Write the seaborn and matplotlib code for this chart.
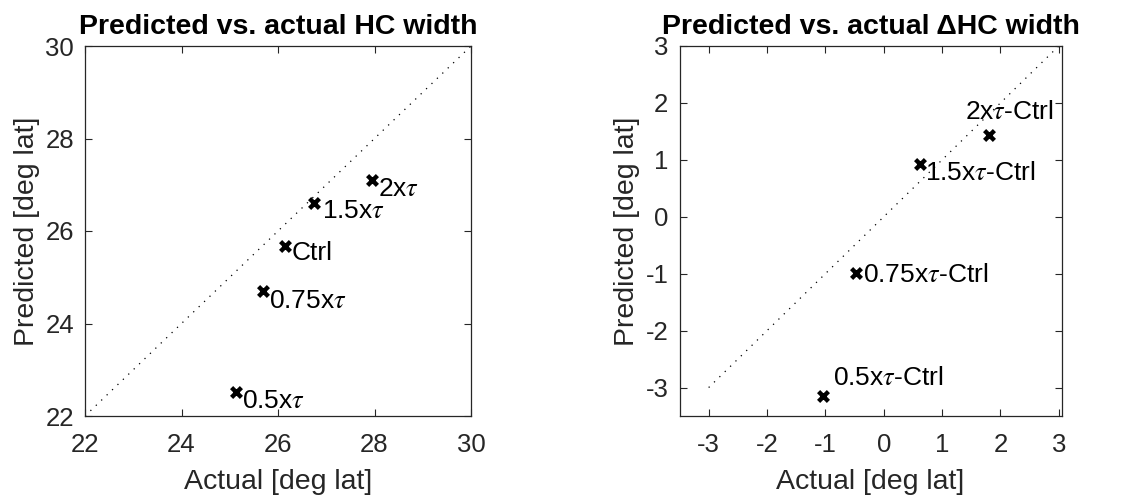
import matplotlib
matplotlib.use("Agg")
import matplotlib.pyplot as plt
import seaborn as sns
import pandas as pd

sns.set_theme(style="white")
plt.rcParams["font.family"] = ["Liberation Sans", "DejaVu Sans"]
plt.rcParams["mathtext.fontset"] = "stix"

# Hadley-cell width: actual vs. predicted (deg lat)
labels_abs = ["2x$\\tau$", "1.5x$\\tau$", "Ctrl", "0.75x$\\tau$", "0.5x$\\tau$"]
actual_abs = [27.95, 26.75, 26.15, 25.68, 25.12]
predicted_abs = [27.10, 26.60, 25.68, 24.70, 22.52]

# Change relative to the control run
labels_delta = ["2x$\\tau$-Ctrl", "1.5x$\\tau$-Ctrl", "0.75x$\\tau$-Ctrl", "0.5x$\\tau$-Ctrl"]
actual_delta = [1.81, 0.62, -0.47, -1.04]
predicted_delta = [1.44, 0.93, -0.99, -3.15]

ticks_abs = [22, 24, 26, 28, 30]
ticks_delta = [-3, -2, -1, 0, 1, 2, 3]
diag_abs = [22, 30]
diag_delta = [-3, 3]

# label offsets in pixels (dx, dy)
offs_abs = [(6, -9), (8, -8), (6, -7), (6, -10), (6, -9)]
offs_delta = [(-24, 23), (5, -9), (7, -2), (10, 18)]

INK = "#262626"
fig = plt.figure(figsize=(11.29, 5.0), dpi=100)
ax1 = fig.add_axes([85 / 1129, 84 / 500, 386 / 1129, 370 / 500])
ax2 = fig.add_axes([679.5 / 1129, 84 / 500, 382.2 / 1129, 370 / 500])


def panel(ax, x, y, labels, offs, diag, ticks, xlim, ylim, title):
    sns.lineplot(x=diag, y=diag, ax=ax, color="black", linestyle=(0, (1, 5)),
                 linewidth=0.9)
    df = pd.DataFrame({"x": x, "y": y})
    sns.scatterplot(data=df, x="x", y="y", ax=ax, marker="x", color="black",
                    s=50, linewidth=3.2, zorder=5)
    for xi, yi, lab, (dx, dy) in zip(x, y, labels, offs):
        ax.annotate(lab, (xi, yi), xytext=(dx, dy), textcoords="offset pixels",
                    ha="left", va="center", fontsize=19, color="black")
    ax.set_xlim(*xlim)
    ax.set_ylim(*ylim)
    ax.set_xticks(ticks)
    ax.set_yticks(ticks)
    ax.set_xticklabels([str(t) for t in ticks])
    ax.set_yticklabels([str(t) for t in ticks])
    ax.tick_params(direction="in", length=5, width=0.8, colors=INK,
                   labelsize=18.5, top=True, right=True, bottom=True, left=True)
    ax.tick_params(axis="x", pad=12)
    ax.tick_params(axis="y", pad=8)
    for sp in ax.spines.values():
        sp.set_visible(True)
        sp.set_color(INK)
        sp.set_linewidth(0.9)
    ax.set_xlabel("Actual [deg lat]", fontsize=20.5, color=INK, labelpad=9)
    ax.set_ylabel("Predicted [deg lat]", fontsize=20.5, color=INK, labelpad=4)
    ax.set_title(title, fontsize=20.5, fontweight="bold", color="black", pad=9)


panel(ax1, actual_abs, predicted_abs, labels_abs, offs_abs, diag_abs, ticks_abs,
      (22, 30), (22, 30), "Predicted vs. actual HC width")
panel(ax2, actual_delta, predicted_delta, labels_delta, offs_delta, diag_delta,
      ticks_delta, (-3.5, 3.05), (-3.5, 3),
      "Predicted vs. actual \u0394HC width")

fig.savefig("out.png", dpi=100)
